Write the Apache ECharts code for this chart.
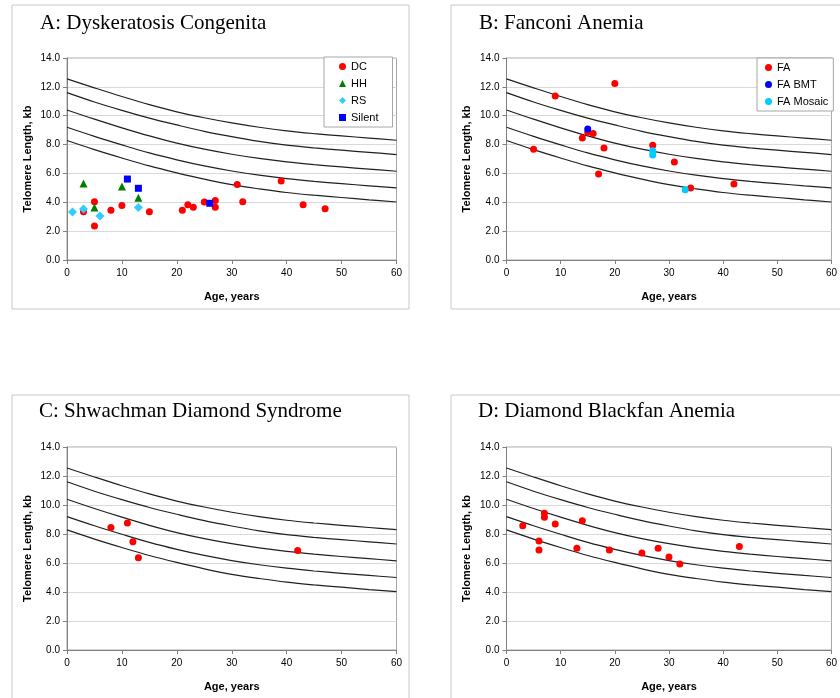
<!DOCTYPE html>
<html><head><meta charset="utf-8">
<script src="https://cdn.jsdelivr.net/npm/echarts@6/dist/echarts.min.js"></script>
<style>html,body{margin:0;padding:0;background:#fff}#c{width:840px;height:698px}</style>
</head><body><div id="c"></div>
<script>
// Percentile reference curves (telomere length, kb) at these ages
const curveAges = [0, 5, 10, 15, 20, 25, 30, 35, 40, 45, 50, 55, 60];
const curve99 = [12.55, 11.93, 11.33, 10.77, 10.27, 9.86, 9.5, 9.2, 8.95, 8.76, 8.6, 8.45, 8.3];
const curve90 = [11.6, 10.95, 10.37, 9.83, 9.36, 8.92, 8.55, 8.22, 7.96, 7.77, 7.61, 7.46, 7.31];
const curve50 = [10.4, 9.76, 9.16, 8.6, 8.1, 7.68, 7.33, 7.04, 6.8, 6.61, 6.45, 6.3, 6.15];
const curve10 = [9.2, 8.57, 7.98, 7.42, 6.94, 6.52, 6.17, 5.88, 5.64, 5.45, 5.29, 5.14, 5.0];
const curve1  = [8.28, 7.65, 7.07, 6.52, 6.04, 5.6, 5.22, 4.93, 4.68, 4.49, 4.33, 4.17, 4.02];

// Panel A: Dyskeratosis Congenita  [age, kb]
const DC = [[3,3.35],[5,4.04],[5,2.36],[8,3.44],[10,3.77],[15,3.35],[21,3.44],[22,3.83],[23,3.65],[25,4.02],[27,4.13],[27,3.65],[31,5.24],[32,4.04],[39,5.47],[43,3.83],[47,3.56]];
const HH = [[3,5.31],[5,3.63],[10,5.1],[13,4.32]];
const RS = [[1,3.33],[3,3.53],[6,3.05],[13,3.63]];
const Silent = [[11,5.61],[13,4.97],[26,3.93]];

// Panel B: Fanconi Anemia
const FA = [[5,7.67],[9,11.37],[20,12.24],[14,8.45],[15,8.85],[16,8.76],[18,7.76],[17,5.96],[27,7.95],[31,6.79],[34,4.99],[42,5.27]];
const FA_BMT = [[15,9.08]];
const FA_Mosaic = [[27,7.58],[27,7.28],[33,4.87]];

// Panel C: Shwachman Diamond Syndrome
const SDS = [[8,8.44],[11,8.76],[12,7.47],[13,6.37],[42,6.87]];

// Panel D: Diamond Blackfan Anemia
const DBA = [[3,8.57],[6,7.52],[6,6.9],[7,9.43],[7,9.15],[9,8.69],[14,8.92],[13,7.01],[19,6.9],[25,6.69],[28,7.01],[30,6.41],[32,5.93],[43,7.13]];

const titles = ['A: Dyskeratosis Congenita', 'B: Fanconi Anemia', 'C: Shwachman Diamond Syndrome', 'D: Diamond Blackfan Anemia'];
const xTicks = [0, 10, 20, 30, 40, 50, 60];
const yTicks = [0, 2, 4, 6, 8, 10, 12, 14];

const chart = echarts.init(document.getElementById('c'), null, {renderer: 'canvas'});
const F = 'Arial, "Liberation Sans", sans-serif';
const gridPos = [
  {left: 67, top: 58, width: 329.5, height: 202},
  {left: 506.5, top: 58, width: 329.5, height: 202},
  {left: 67, top: 447, width: 329.5, height: 203},
  {left: 506.5, top: 447, width: 329.5, height: 203}
];
const boxes = [[12,5,397,304],[451,5,420,304],[12,395,397,330],[451,395,420,330]];
const titlePos = [[35,8],[474,8],[34,396],[473,396]];

const grid = [], xAxis = [], yAxis = [], series = [], title = [], graphic = [];
gridPos.forEach((g, i) => {
  grid.push(Object.assign({show: true, borderColor: '#a6a6a6', borderWidth: 1, backgroundColor: '#fff'}, g));
  xAxis.push({
    type: 'value', gridIndex: i, min: xTicks[0], max: xTicks[xTicks.length-1], interval: 10,
    name: 'Age, years', nameLocation: 'middle', nameGap: 31,
    nameTextStyle: {fontFamily: F, fontSize: 11, fontWeight: 'bold', color: '#000'},
    axisLine: {show: true, lineStyle: {color: '#808080', width: 1}},
    axisTick: {show: true, length: 4, inside: false, lineStyle: {color: '#808080'}},
    axisLabel: {fontFamily: F, fontSize: 10, color: '#000', margin: 8},
    splitLine: {show: false}
  });
  yAxis.push({
    type: 'value', gridIndex: i, min: yTicks[0], max: yTicks[yTicks.length-1], interval: 2,
    name: 'Telomere Length, kb', nameLocation: 'middle', nameGap: 34,
    nameTextStyle: {fontFamily: F, fontSize: 11, fontWeight: 'bold', color: '#000'},
    axisLine: {show: true, lineStyle: {color: '#808080', width: 1}},
    axisTick: {show: true, length: 4, inside: false, lineStyle: {color: '#808080'}},
    axisLabel: {fontFamily: F, fontSize: 10, color: '#000', margin: 7, formatter: v => v.toFixed(1)},
    splitLine: {show: true, lineStyle: {color: '#d9d9d9', width: 1}}
  });
  [curve99, curve90, curve50, curve10, curve1].forEach((c, k) => {
    series.push({
      type: 'line', xAxisIndex: i, yAxisIndex: i, name: 'curve' + i + '_' + k,
      data: curveAges.map((a, j) => [a, c[j]]), showSymbol: false, symbol: 'none',
      smooth: 0.35, lineStyle: {color: '#202020', width: 1.2}, silent: true, z: 2
    });
  });
  title.push({text: titles[i], left: titlePos[i][0], top: titlePos[i][1],
    textStyle: {fontFamily: '"Liberation Serif", "Times New Roman", serif', fontSize: 21, fontWeight: 'normal', color: '#000'}});
  graphic.push({type: 'rect', shape: {x: boxes[i][0], y: boxes[i][1], width: boxes[i][2], height: boxes[i][3]},
    style: {fill: 'none', stroke: '#c8c8c8', lineWidth: 1}, z: -10, silent: true});
});

function sc(name, data, gi, symbol, size, color) {
  return {type: 'scatter', name, data, xAxisIndex: gi, yAxisIndex: gi, symbol, symbolSize: size,
    itemStyle: {color: color, opacity: 1}, z: 5};
}
series.push(sc('DC', DC, 0, 'circle', 7, '#ff0000'));
series.push(sc('HH', HH, 0, 'triangle', 8, '#008000'));
series.push(sc('RS', RS, 0, 'diamond', 9, '#33ccff'));
series.push(sc('Silent', Silent, 0, 'rect', 7, '#0000ff'));
series.push(sc('FA', FA, 1, 'circle', 7, '#ff0000'));
series.push(sc('FA BMT', FA_BMT, 1, 'circle', 7, '#0000ff'));
series.push(sc('FA Mosaic', FA_Mosaic, 1, 'circle', 7, '#00ccff'));
series.push(sc('SDS', SDS, 2, 'circle', 7, '#ff0000'));
series.push(sc('DBA', DBA, 3, 'circle', 7, '#ff0000'));

const legendBase = {orient: 'vertical', itemWidth: 7, itemHeight: 7, itemGap: 4,
  backgroundColor: '#fff', borderColor: '#a6a6a6', borderWidth: 1,
  textStyle: {fontFamily: F, fontSize: 11, color: '#000', lineHeight: 13}, selectedMode: false};
const legend = [
  Object.assign({}, legendBase, {left: 324, top: 57, padding: [3, 14, 3, 15],
    data: [{name: 'DC', icon: 'circle'}, {name: 'HH', icon: 'triangle'}, {name: 'RS', icon: 'diamond'}, {name: 'Silent', icon: 'rect'}]}),
  Object.assign({}, legendBase, {left: 757, top: 58, padding: [3, 5, 3, 8],
    data: [{name: 'FA', icon: 'circle'}, {name: 'FA BMT', icon: 'circle'}, {name: 'FA Mosaic', icon: 'circle'}]})
];

chart.setOption({animation: false, backgroundColor: '#fff', title, grid, xAxis, yAxis, series, legend, graphic});
</script></body></html>
